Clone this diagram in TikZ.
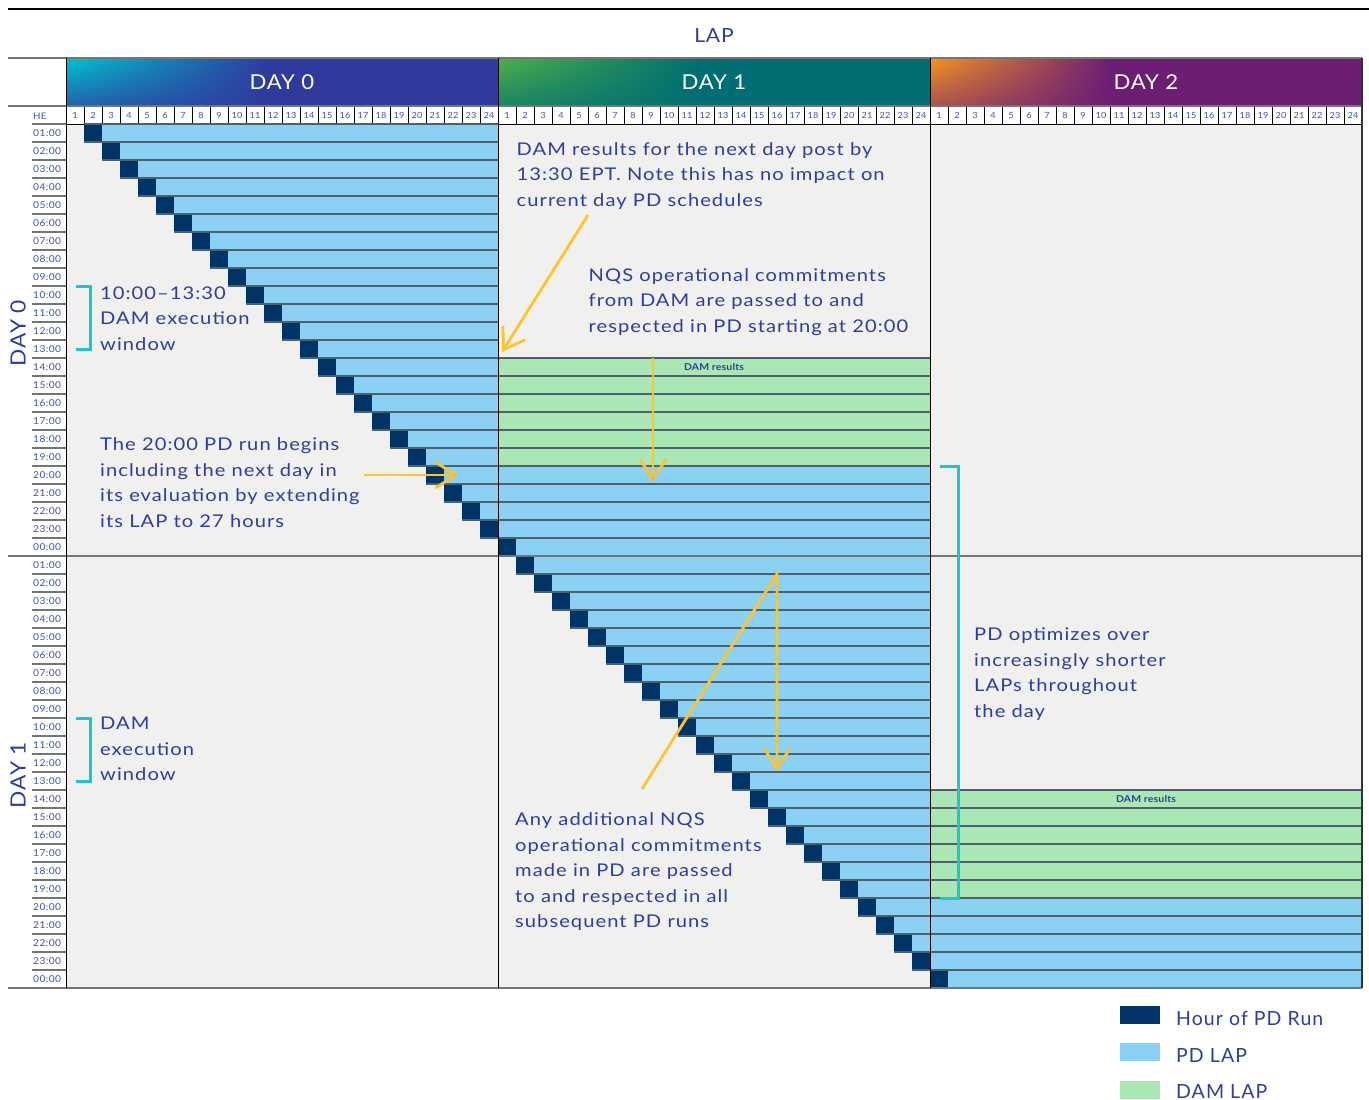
\documentclass[tikz,border=0pt]{standalone}
\usepackage{fontspec}
\setmainfont{Lato}[FakeStretch=1.15,LetterSpace=6]
\newfontfamily\plainlato{Lato}[FakeStretch=1.08,LetterSpace=4]
\newfontfamily\legfont{Lato}[LetterSpace=5.5]
\newfontfamily\boldlabel{Lato}[FakeStretch=1.1,LetterSpace=2]
\usetikzlibrary{arrows.meta,shadings}

\definecolor{txtblue}{HTML}{2D3DA0}
\definecolor{lblblue}{HTML}{3F50B0}
\definecolor{lapblue}{HTML}{8AD1F3}
\definecolor{rundark}{HTML}{003366}
\definecolor{damgreen}{HTML}{ABE7B4}
\definecolor{gridbg}{HTML}{F0F0EE}
\definecolor{rowline}{HTML}{4E606C}
\definecolor{arrowyel}{HTML}{FDC42E}
\definecolor{brackteal}{HTML}{18C8CC}
\definecolor{rulegrey}{HTML}{757575}
\definecolor{bannerAmain}{HTML}{2E3A9E}
\definecolor{bannerAcorner}{HTML}{00C4CE}
\definecolor{bannerBmain}{HTML}{006E72}
\definecolor{bannerBcorner}{HTML}{4DB047}
\definecolor{bannerCmain}{HTML}{6B1E74}
\definecolor{bannerCcorner}{HTML}{F7941E}

\tikzset{
  % multi-line notes are anchored at the baseline of their last line
  note/.style={font=\fontsize{17.5}{25.5}\selectfont, text=txtblue, align=left, anchor=base west, inner sep=0pt},
  daytitle/.style={font=\plainlato\fontsize{20.5}{24}\selectfont, text=white, inner sep=0pt},
  sidetitle/.style={font=\plainlato\fontsize{21}{24}\selectfont, text=txtblue, rotate=90, inner sep=0pt},
  hournum/.style={font=\plainlato\fontsize{8.5}{10}\selectfont, text=lblblue, inner sep=0pt},
  rowlabel/.style={font=\plainlato\fontsize{9.5}{11}\selectfont, text=lblblue, anchor=west, inner sep=0pt},
  damtag/.style={font=\boldlabel\bfseries\fontsize{9.5}{11}\selectfont, text=txtblue, inner sep=0pt},
  legtext/.style={font=\legfont\fontsize{19.5}{22}\selectfont, text=txtblue, anchor=base west, inner sep=0pt},
  legbox/.style={minimum width=40pt, minimum height=18pt, inner sep=0pt, anchor=north west},
  yelarrow/.style={draw=arrowyel, line width=2.8pt, -{Straight Barb[length=20pt,width=26pt,line width=2.8pt]}},
  bracket/.style={draw=brackteal, line width=3pt},
  rowsep/.style={draw=rowline, line width=1.6pt},
}

\begin{document}
\begin{tikzpicture}[x=1pt,y=-1pt]
\useasboundingbox (0,0) rectangle (1369,1100);
\fill[white] (0,0) rectangle (1369,1100);

% top rule and title
\draw[black, line width=1.3pt] (8,9) -- (1369,9);
\node[font=\plainlato\fontsize{19.5}{22}\selectfont, text=txtblue, inner sep=0pt] (lap) at (714,36) {LAP};

% day banners with corner gradients
\fill[bannerAmain] (66,58) rectangle (498,106);
\shade[upper left=bannerAcorner, lower left=bannerAmain!70!bannerAcorner, upper right=bannerAmain, lower right=bannerAmain] (66,58) rectangle (270,106);
\fill[bannerBmain] (498,58) rectangle (930,106);
\shade[upper left=bannerBcorner, lower left=bannerBmain!65!bannerBcorner, upper right=bannerBmain, lower right=bannerBmain] (498,58) rectangle (700,106);
\fill[bannerCmain] (930,58) rectangle (1362,106);
\shade[upper left=bannerCcorner, lower left=bannerCmain!55!bannerCcorner, upper right=bannerCmain, lower right=bannerCmain] (930,58) rectangle (1110,106);
\node[daytitle] (d0) at (282,82) {DAY 0};
\node[daytitle] (d1) at (714,82) {DAY 1};
\node[daytitle] (d2) at (1146,82) {DAY 2};

% grid background
\fill[gridbg] (66,124) rectangle (1362,988);

% hour-number row
\foreach \d in {0,1,2}{
  \foreach \h in {1,...,24}{
    \pgfmathsetmacro\cx{66+432*\d+18*(\h-1)}
    \draw[black, line width=0.8pt, fill=white] (\cx,106) rectangle (\cx+18,124);
    \node[hournum] (hn-\d-\h) at (\cx+9,115.5) {\h};
  }
}

% green DAM LAP rows
\foreach \r in {14,...,19,38,39,40,41,42,43}{
  \pgfmathsetmacro\yt{124+18*(\r-1)}
  \pgfmathsetmacro\xg{498+432*(\r>24)}
  \fill[damgreen] (\xg,\yt) rectangle (\xg+432,\yt+18);
}

% PD runs: hour of run and look-ahead period
\foreach \r in {1,...,48}{
  \pgfmathsetmacro\yt{124+18*(\r-1)}
  \pgfmathsetmacro\xd{66+18*\r}
  \pgfmathsetmacro\xe{498+432*(\r>19)+432*(\r>43)}
  \pgfmathsetmacro\xl{\xe+432*and(\r>13,\r<20)+432*and(\r>37,\r<44)}
  \fill[lapblue] (\xd+18,\yt) rectangle (\xe,\yt+18);
  \fill[rundark] (\xd,\yt) rectangle (\xd+18,\yt+18);
  \draw[rowsep] (\xd,\yt) -- (\xl,\yt);
  \draw[rowsep] (\xd,\yt+18) -- (\xl,\yt+18);
}

\node[damtag] (dr0) at (714,367) {DAM results};
\node[damtag] (dr1) at (1146,799) {DAM results};

% row labels
\node[rowlabel, font=\plainlato\fontsize{9}{11}\selectfont] (he) at (33,116) {HE};
\foreach \k [count=\i from 1] in {01,02,03,04,05,06,07,08,09,10,11,12,13,14,15,16,17,18,19,20,21,22,23,00}{
  \node[rowlabel] (ra-\i) at (33,{124+18*(\i-1)+9.5}) {\k:00};
  \node[rowlabel] (rb-\i) at (33,{556+18*(\i-1)+9.5}) {\k:00};
}
\foreach \k in {0,...,48}{
  \draw[rulegrey, line width=2pt] (32,124+18*\k) -- (66,124+18*\k);
}

% frame rules
\draw[rulegrey, line width=1.5pt] (8,58) -- (1362,58);
\draw[rulegrey, line width=1.5pt] (8,106) -- (1362,106);
\draw[rulegrey, line width=2pt] (8,556) -- (1362,556);
\draw[rulegrey, line width=2.2pt] (8,988) -- (1362,988);
\draw[black, line width=1pt] (66,58) -- (66,988);
\draw[black, line width=1pt] (498,58) -- (498,988);
\draw[black, line width=1pt] (930,58) -- (930,988);
\draw[black!80, line width=1.5pt] (1362,58) -- (1362,988);

% side titles
\node[sidetitle] (side0) at (18,333) {DAY 0};
\node[sidetitle] (side1) at (18,775) {DAY 1};

% execution-window brackets
\draw[bracket] (76,286) -- (90,286) -- (90,349) -- (76,349);
\draw[bracket] (76,718) -- (90,718) -- (90,781) -- (76,781);
\draw[bracket] (940,466) -- (958,466) -- (958,898) -- (940,898);

% annotations
\node[note] (nExec0) at (100,350) {10:00–13:30\\DAM execution\\window};
\node[note] (nPost) at (516.5,206) {DAM results for the next day post by\\13:30 EPT. Note this has no impact on\\current day PD schedules};
\node[note] (nNQS) at (588.5,332) {NQS operational commitments\\from DAM are passed to and\\respected in PD starting at 20:00};
\node[note] (nRun) at (100,527) {The 20:00 PD run begins\\including the next day in\\its evaluation by extending\\its LAP to 27 hours};
\node[note] (nOpt) at (974,717) {PD optimizes over\\increasingly shorter\\LAPs throughout\\the day};
\node[note] (nExec1) at (100,780.5) {DAM\\execution\\window};
\node[note] (nAny) at (515,927.5) {Any additional NQS\\operational commitments\\made in PD are passed\\to and respected in all\\subsequent PD runs};

% yellow arrows
\coordinate (aPostS) at (588,215);
\coordinate (aPostE) at (502,352);
\coordinate (aDamS) at (653,358);
\coordinate (aDamE) at (653,482);
\coordinate (aRunS) at (364,475);
\coordinate (aRunE) at (458,475);
\coordinate (aAnyS) at (642,789);
\coordinate (aAnyM) at (777,574);
\coordinate (aAnyE) at (777,771);
\draw[yelarrow] (aPostS) -- (aPostE);
\draw[yelarrow] (aDamS) -- (aDamE);
\draw[yelarrow] (aRunS) -- (aRunE);
\draw[yelarrow] (aAnyS) -- (aAnyM) -- (aAnyE);

% legend
\node[legbox, fill=rundark] (legRun) at (1120,1006) {};
\node[legbox, fill=lapblue] (legLap) at (1120,1043) {};
\node[legbox, fill=damgreen] (legDam) at (1120,1081) {};
\node[legtext] (legRunT) at (1176,1025) {Hour of PD Run};
\node[legtext] (legLapT) at (1176,1062) {PD LAP};
\node[legtext] (legDamT) at (1176,1098) {DAM LAP};
\end{tikzpicture}
\end{document}
